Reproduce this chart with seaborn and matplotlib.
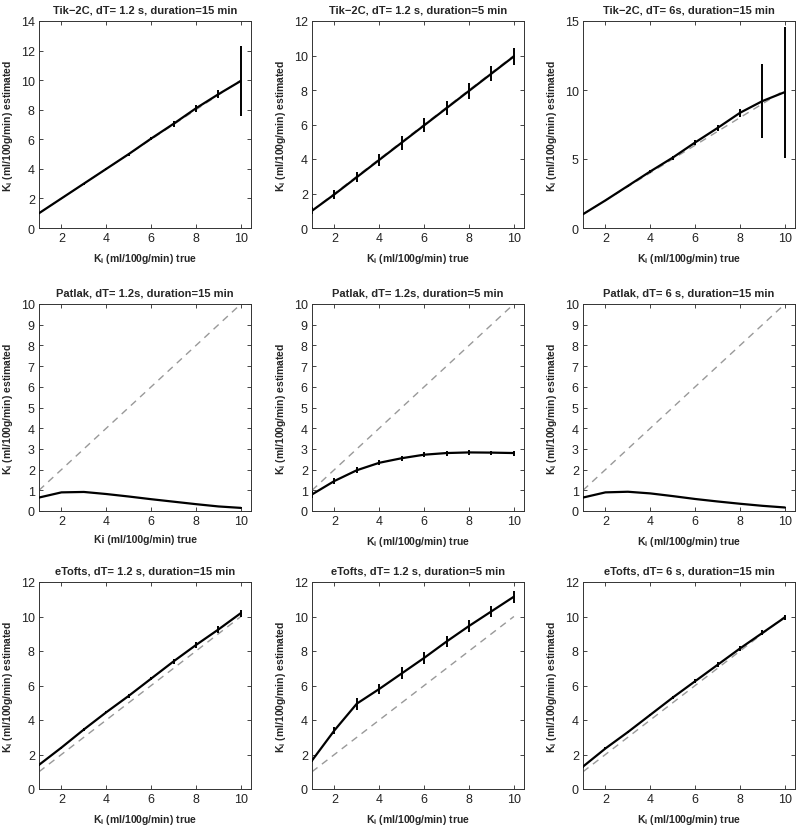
"""
Ki estimates vs true Ki for Tik-2C / Patlak / eTofts at several sampling settings
"""

import numpy as np
import pandas as pd
import matplotlib
matplotlib.use('Agg')
import matplotlib.pyplot as plt
import seaborn as sns

# true Ki values (x axis)
ki_true = [1, 2, 3, 4, 5, 6, 7, 8, 9, 10]

# panel titles, row by row
titles = [
    'Tik\u22122C, dT= 1.2 s, duration=15 min',
    'Tik\u22122C, dT= 1.2 s, duration=5 min',
    'Tik\u22122C, dT= 6s, duration=15 min',
    'Patlak, dT= 1.2s, duration=15 min',
    'Patlak, dT= 1.2s, duration=5 min',
    'Patlak, dT= 6 s, duration=15 min',
    'eTofts, dT= 1.2 s, duration=15 min',
    'eTofts, dT= 1.2 s, duration=5 min',
    'eTofts, dT= 6 s, duration=15 min',
]

# mean estimated Ki
tik_12_15 = [1.0, 2.0, 3.0, 4.0, 5.0, 6.05, 7.05, 8.1, 9.05, 9.95]
tik_12_5 = [1.0, 1.95, 2.95, 3.95, 4.95, 5.95, 6.95, 7.95, 8.95, 9.95]
tik_6_15 = [1.0, 2.0, 3.05, 4.1, 5.1, 6.2, 7.25, 8.35, 9.2, 9.85]
pat_12_15 = [0.65, 0.9, 0.92, 0.82, 0.7, 0.57, 0.45, 0.33, 0.22, 0.15]
pat_12_5 = [0.8, 1.45, 1.97, 2.33, 2.55, 2.72, 2.8, 2.83, 2.82, 2.8]
pat_6_15 = [0.65, 0.9, 0.93, 0.85, 0.72, 0.58, 0.46, 0.35, 0.25, 0.17]
eto_12_15 = [1.4, 2.4, 3.45, 4.45, 5.4, 6.4, 7.4, 8.35, 9.25, 10.2]
eto_12_5 = [1.65, 3.4, 4.95, 5.8, 6.7, 7.6, 8.55, 9.45, 10.3, 11.15]
eto_6_15 = [1.3, 2.35, 3.3, 4.3, 5.3, 6.25, 7.2, 8.15, 9.05, 9.95]

# error bar half-lengths (std)
err_tik_12_15 = [0.06, 0.06, 0.06, 0.08, 0.1, 0.12, 0.2, 0.25, 0.25, 2.35]
err_tik_12_5 = [0.2, 0.25, 0.3, 0.35, 0.4, 0.4, 0.4, 0.45, 0.45, 0.5]
err_tik_6_15 = [0.06, 0.06, 0.06, 0.1, 0.15, 0.15, 0.2, 0.3, 2.7, 4.75]
err_pat_12_15 = [0.03, 0.03, 0.03, 0.02, 0.02, 0.02, 0.02, 0.02, 0.02, 0.02]
err_pat_12_5 = [0.15, 0.15, 0.15, 0.12, 0.12, 0.12, 0.12, 0.12, 0.1, 0.12]
err_pat_6_15 = [0.03, 0.03, 0.03, 0.02, 0.02, 0.02, 0.02, 0.02, 0.02, 0.02]
err_eto_12_15 = [0.06, 0.06, 0.06, 0.06, 0.1, 0.1, 0.15, 0.2, 0.2, 0.2]
err_eto_12_5 = [0.1, 0.2, 0.35, 0.3, 0.35, 0.35, 0.3, 0.35, 0.3, 0.35]
err_eto_6_15 = [0.06, 0.06, 0.06, 0.06, 0.1, 0.1, 0.15, 0.15, 0.15, 0.15]

means = [tik_12_15, tik_12_5, tik_6_15, pat_12_15, pat_12_5, pat_6_15,
         eto_12_15, eto_12_5, eto_6_15]
errs = [err_tik_12_15, err_tik_12_5, err_tik_6_15, err_pat_12_15, err_pat_12_5,
        err_pat_6_15, err_eto_12_15, err_eto_12_5, err_eto_6_15]

# y axis limits / ticks per panel
y_limits = [(0, 14), (0, 12), (0, 15), (0, 10), (0, 10), (0, 10), (0, 12), (0, 12), (0, 12)]
y_ticks = [np.arange(0, 15, 2), np.arange(0, 13, 2), [0, 5, 10, 15],
           np.arange(0, 11, 1), np.arange(0, 11, 1), np.arange(0, 11, 1),
           np.arange(0, 13, 2), np.arange(0, 13, 2), np.arange(0, 13, 2)]

x_labels = ['K$_\\mathregular{i}$ (ml/100g/min) true'] * 9
x_labels[3] = 'Ki (ml/100g/min) true'
y_label = 'K$_\\mathregular{i}$ (ml/100g/min) estimated'

sns.set_style('ticks')
plt.rcParams['font.family'] = ['Liberation Sans', 'DejaVu Sans']
plt.rcParams['mathtext.fontset'] = 'custom'
plt.rcParams['mathtext.rm'] = 'Liberation Sans:bold'
plt.rcParams['mathtext.it'] = 'Liberation Sans:bold'
plt.rcParams['mathtext.bf'] = 'Liberation Sans:bold'
plt.rcParams['xtick.direction'] = 'in'
plt.rcParams['ytick.direction'] = 'in'

W, H = 796, 829
fig = plt.figure(figsize=(W / 100, H / 100), dpi=100)

# axes boxes in pixels: left, top
col_left = [39, 312, 583]
row_top = [22, 305, 583]
ax_w, ax_h = 212, 207

for i in range(9):
    r, c = divmod(i, 3)
    left = col_left[c] / W
    bottom = 1 - (row_top[r] + ax_h) / H
    ax = fig.add_axes([left, bottom, ax_w / W, ax_h / H])

    df = pd.DataFrame({'true': ki_true, 'est': means[i]})
    # identity line
    sns.lineplot(x=[1, 10], y=[1, 10], ax=ax, color='#999999', linestyle=(0, (5, 4)),
                 linewidth=1.0, zorder=1)
    sns.lineplot(data=df, x='true', y='est', ax=ax, color='black', linewidth=1.6, zorder=3)
    ax.errorbar(ki_true, means[i], yerr=errs[i], fmt='none', ecolor='black',
                elinewidth=1.4, capsize=0, zorder=4)

    ax.set_xlim(1, 10.45)
    ax.set_ylim(*y_limits[i])
    ax.set_xticks([2, 4, 6, 8, 10])
    ax.set_yticks(y_ticks[i])
    ax.tick_params(labelsize=9, length=3, width=0.6, top=True, right=True, pad=3,
                   labelcolor='#222222')
    for s in ax.spines.values():
        s.set_linewidth(0.7)
        s.set_color('#333333')
    ax.set_title(titles[i], fontsize=8, fontweight='bold', pad=6)
    ax.set_xlabel(x_labels[i], fontsize=7.5, fontweight='bold', labelpad=5)
    ax.set_ylabel(y_label, fontsize=7.5, fontweight='bold', labelpad=4)

fig.savefig('out.png', dpi=100)
